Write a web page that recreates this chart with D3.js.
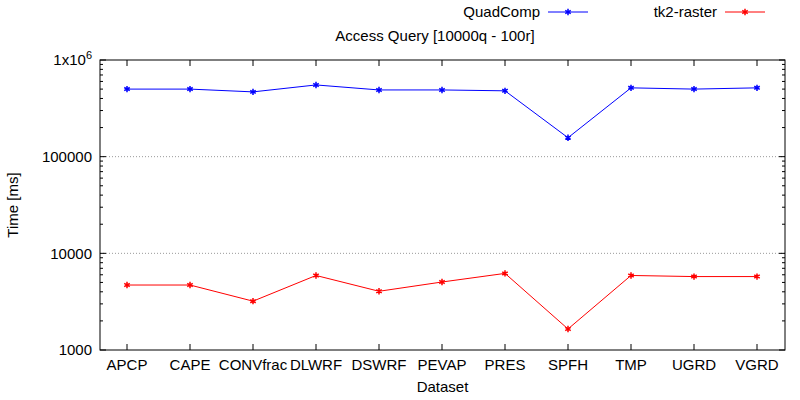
<!DOCTYPE html>
<html><head><meta charset="utf-8">
<script src="https://cdn.jsdelivr.net/npm/d3@7"></script>
<style>body{margin:0;background:#fff}text{font-family:"Liberation Sans",Arial,sans-serif}</style>
</head><body><div id="chart"></div>
<script>
var categories = ["APCP","CAPE","CONVfrac","DLWRF","DSWRF","PEVAP","PRES","SPFH","TMP","UGRD","VGRD"];
var quadComp = [500000,500000,468000,552000,490000,490000,480000,157000,515000,500000,515000];
var tk2raster = [4700,4700,3200,5900,4050,5050,6200,1650,5900,5750,5750];
var yTicks = [1000,10000,100000,1000000];

var width = 800, height = 400;
var margin = {top: 60, right: 15, bottom: 50, left: 100};
var w = width - margin.left - margin.right, h = height - margin.top - margin.bottom;
var fs = 15;

var svg = d3.select("#chart").append("svg").attr("width", width).attr("height", height);
var g = svg.append("g").attr("transform", "translate(" + margin.left + "," + margin.top + ")");

var x = d3.scalePoint().domain(categories).range([27, w - 28]);
var y = d3.scaleLog().domain([1000, 1000000]).range([h, 0]);

// grid
g.selectAll(".grid").data([10000, 100000]).enter().append("line")
    .attr("x1", 0).attr("x2", w).attr("y1", function(d){ return y(d); }).attr("y2", function(d){ return y(d); })
    .attr("stroke", "#999").attr("stroke-dasharray", "1,2");

g.append("rect").attr("width", w).attr("height", h).attr("fill", "none").attr("stroke", "#000");

// ticks
var yAxis = g.append("g");
yTicks.forEach(function(t){
    yAxis.append("line").attr("x1", 0).attr("x2", 6).attr("y1", y(t)).attr("y2", y(t)).attr("stroke", "#000");
    yAxis.append("line").attr("x1", w).attr("x2", w - 6).attr("y1", y(t)).attr("y2", y(t)).attr("stroke", "#000");
    for (var k = 2; k < 10 && t < 1000000; k++) {
        yAxis.append("line").attr("x1", 0).attr("x2", 3).attr("y1", y(t*k)).attr("y2", y(t*k)).attr("stroke", "#000");
        yAxis.append("line").attr("x1", w).attr("x2", w - 3).attr("y1", y(t*k)).attr("y2", y(t*k)).attr("stroke", "#000");
    }
    var lab = yAxis.append("text").attr("x", -8).attr("y", y(t)).attr("dy", "0.35em")
        .attr("text-anchor", "end").attr("font-size", fs);
    if (t === 1000000) {
        lab.text("1x10");
        lab.append("tspan").attr("dy", "-0.6em").attr("font-size", 11).text("6");
    } else lab.text(t);
});
categories.forEach(function(c){
    g.append("line").attr("x1", x(c)).attr("x2", x(c)).attr("y1", h).attr("y2", h - 6).attr("stroke", "#000");
    g.append("line").attr("x1", x(c)).attr("x2", x(c)).attr("y1", 0).attr("y2", 6).attr("stroke", "#000");
    g.append("text").attr("x", x(c)).attr("y", h + 20).attr("text-anchor", "middle").attr("font-size", fs).text(c);
});

svg.append("text").attr("x", margin.left + w/2).attr("y", height - 8).attr("text-anchor", "middle").attr("font-size", fs).text("Dataset");
svg.append("text").attr("transform", "translate(18," + (margin.top + h/2) + ") rotate(-90)").attr("text-anchor", "middle").attr("font-size", fs).text("Time [ms]");
svg.append("text").attr("x", 435).attr("y", 41).attr("text-anchor", "middle").attr("font-size", fs).text("Access Query [10000q - 100r]");

var line = d3.line().x(function(d, i){ return x(categories[i]); }).y(function(d){ return y(d); });
function series(data, color, name, lx) {
    g.append("path").datum(data).attr("d", line).attr("fill", "none").attr("stroke", color).attr("stroke-width", 1);
    g.selectAll(null).data(data).enter().append("path")
        .attr("transform", function(d, i){ return "translate(" + x(categories[i]) + "," + y(d) + ")"; })
        .attr("d", d3.symbol(d3.symbolAsterisk, 28)).attr("fill", color).attr("stroke", color).attr("stroke-width", 1.5);
    svg.append("text").attr("x", lx).attr("y", 17).attr("text-anchor", "end").attr("font-size", fs).text(name);
    svg.append("line").attr("x1", lx + 8).attr("x2", lx + 48).attr("y1", 12).attr("y2", 12).attr("stroke", color);
    svg.append("path").attr("transform", "translate(" + (lx + 28) + ",12)")
        .attr("d", d3.symbol(d3.symbolAsterisk, 28)).attr("fill", color).attr("stroke", color).attr("stroke-width", 1.5);
}
series(quadComp, "#0000ff", "QuadComp", 540);
series(tk2raster, "#ff0000", "tk2-raster", 717);
</script></body></html>
